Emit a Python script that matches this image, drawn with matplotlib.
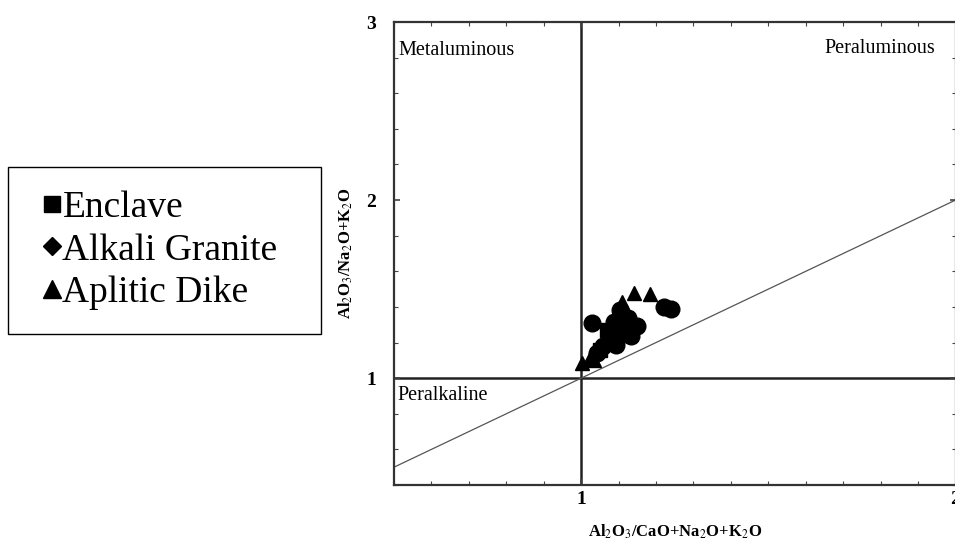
import numpy as np
import matplotlib.pyplot as plt
from matplotlib.lines import Line2D
from matplotlib.ticker import MultipleLocator

plt.rcParams['font.family'] = ['Liberation Serif', 'DejaVu Serif']
plt.rcParams['mathtext.fontset'] = 'stix'

# A/CNK vs A/NK (molar ratios)
enclave_acnk = [1.07, 1.11, 1.05, 1.09]
enclave_ank = [1.27, 1.24, 1.16, 1.20]

granite_acnk = [1.03, 1.22, 1.24, 1.105, 1.126, 1.148, 1.132, 1.089, 1.078,
                1.059, 1.043, 1.094, 1.12]
granite_ank = [1.31, 1.40, 1.39, 1.382, 1.337, 1.292, 1.236, 1.315, 1.230,
               1.180, 1.140, 1.185, 1.28]

dike_acnk = [1.14, 1.183, 1.003, 1.024, 1.11, 1.035]
dike_ank = [1.478, 1.472, 1.084, 1.112, 1.43, 1.10]

W, H = 955, 542
fig = plt.figure(figsize=(W / 100, H / 100), dpi=100)
ax = fig.add_axes([394 / W, 57 / H, (955.5 - 394) / W, (485 - 22) / H])
ax.set_xlim(0.5, 2.0)
ax.set_ylim(0.4, 3.0)

# boundary lines
ax.axhline(1.0, color='#222222', lw=1.8, zorder=1)
ax.axvline(1.0, color='#222222', lw=1.8, zorder=1)
xx = np.array([0.5, 2.0])
ax.plot(xx, xx, color='#555555', lw=0.9, zorder=1)

ax.plot(enclave_acnk, enclave_ank, 's', color='black', ms=10, zorder=3)
ax.plot(granite_acnk, granite_ank, 'o', color='black', ms=12, zorder=3)
ax.plot(dike_acnk, dike_ank, '^', color='black', ms=10, zorder=3)

ax.text(0.511, 2.84, 'Metaluminous', fontsize=14.5, va='center', ha='left')
ax.text(1.946, 2.85, 'Peraluminous', fontsize=14.5, va='center', ha='right')
ax.text(0.508, 0.905, 'Peralkaline', fontsize=14.5, va='center', ha='left')

ax.xaxis.set_major_locator(MultipleLocator(1))
ax.xaxis.set_minor_locator(MultipleLocator(0.1))
ax.yaxis.set_major_locator(MultipleLocator(1))
ax.yaxis.set_minor_locator(MultipleLocator(0.2))
ax.tick_params(which='both', direction='in', top=True, right=True,
               color='#444444')
ax.tick_params(which='major', length=4, width=1.2, labelsize=14)
ax.tick_params(which='minor', length=3, width=0.8)
ax.tick_params(axis='x', which='major', pad=4)
ax.tick_params(axis='y', which='major', pad=13)
ax.set_xticks([1, 2])
ax.set_xticklabels(['1', '2'])
ax.set_yticks([1, 2, 3])
ax.set_yticklabels(['1', '2', '3'])
for lab in ax.get_xticklabels() + ax.get_yticklabels():
    lab.set_fontweight('bold')

for s in ax.spines.values():
    s.set_linewidth(1.6)
    s.set_color('#333333')

ax.set_xlabel(r'Al$_2$O$_3$/CaO+Na$_2$O+K$_2$O', fontsize=12,
              fontweight='bold', labelpad=11)
ax.set_ylabel(r'Al$_2$O$_3$/Na$_2$O+K$_2$O', fontsize=12,
              fontweight='bold', labelpad=8)

handles = [
    Line2D([], [], marker='s', ls='none', color='black', ms=11),
    Line2D([], [], marker='D', ls='none', color='black', ms=9),
    Line2D([], [], marker='^', ls='none', color='black', ms=13),
]
fig.legend(handles, ['Enclave', 'Alkali Granite', 'Aplitic Dike'],
           loc='upper left',
           bbox_to_anchor=(8 / W, 1 - 327 / H, 313 / W, 160 / H),
           mode='expand',
           fontsize=27, frameon=True, fancybox=False, edgecolor='black',
           framealpha=1, borderpad=0.62, labelspacing=0.22,
           handlelength=1.12, handletextpad=-0.29, borderaxespad=0)

fig.savefig('out.png', dpi=100)
